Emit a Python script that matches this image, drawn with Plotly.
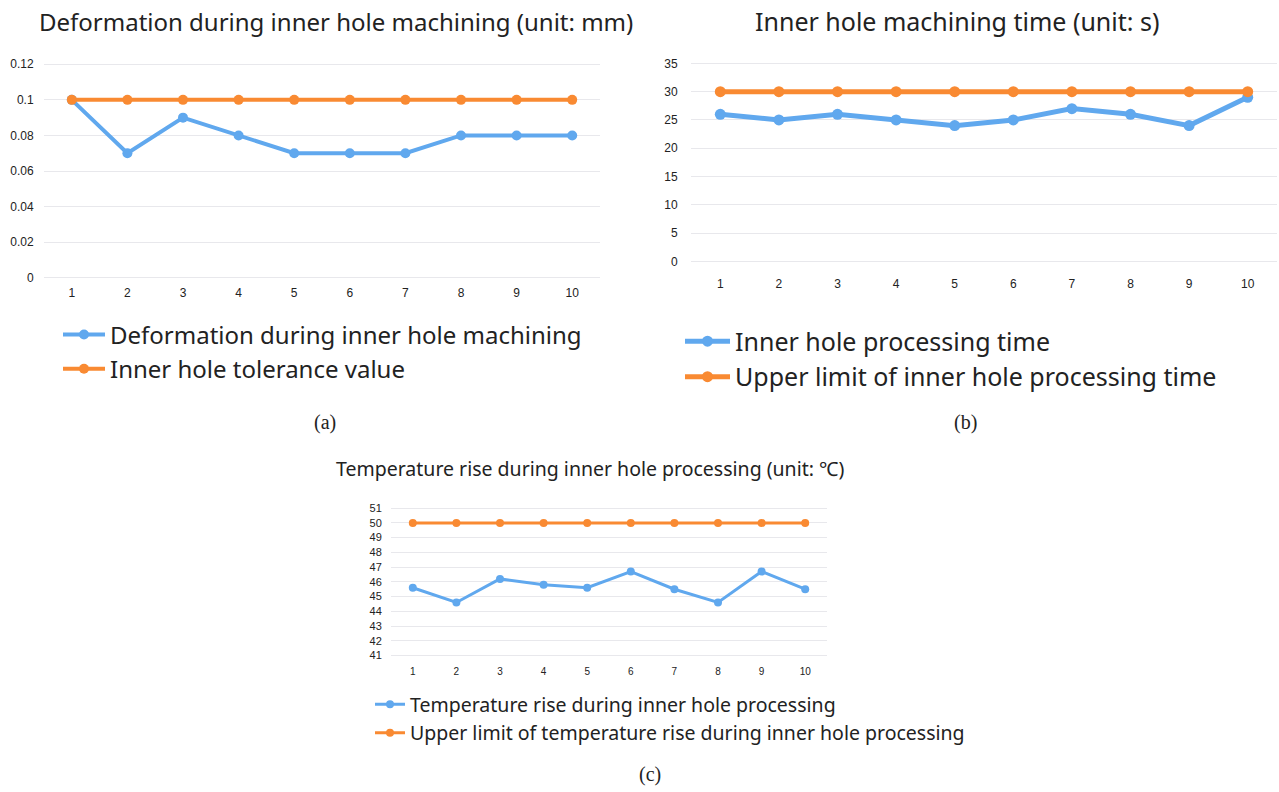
import plotly.graph_objects as go

W, H = 1279, 792

samples = list(range(1, 11))

# (a) deformation
deform = [0.1, 0.07, 0.09, 0.08, 0.07, 0.07, 0.07, 0.08, 0.08, 0.08]
tolerance = [0.1] * 10
a_ticks = [0, 0.02, 0.04, 0.06, 0.08, 0.1, 0.12]
a_ticktext = ["0", "0.02", "0.04", "0.06", "0.08", "0.1", "0.12"]

# (b) machining time
mtime = [26, 25, 26, 25, 24, 25, 27, 26, 24, 29]
time_limit = [30] * 10
b_ticks = [0, 5, 10, 15, 20, 25, 30, 35]

# (c) temperature rise
temp = [45.6, 44.6, 46.2, 45.8, 45.6, 46.7, 45.5, 44.6, 46.7, 45.5]
temp_limit = [50] * 10
c_ticks = list(range(41, 52))

BLUE = "#60A8EE"
ORANGE = "#F98A32"
GRID = "#E8E8EC"
TXT = "#222222"
TFONT = "Noto Sans"


def px(x):
    return x / W


def py(y):
    return 1 - y / H


fig = go.Figure()

# panel a
fig.add_trace(go.Scatter(x=samples, y=deform, mode="lines+markers", name="Deformation during inner hole machining",
                         line=dict(color=BLUE, width=4), marker=dict(size=10, color=BLUE),
                         xaxis="x", yaxis="y", legend="legend"))
fig.add_trace(go.Scatter(x=samples, y=tolerance, mode="lines+markers", name="Inner hole tolerance value",
                         line=dict(color=ORANGE, width=4), marker=dict(size=10, color=ORANGE),
                         xaxis="x", yaxis="y", legend="legend"))
# panel b
fig.add_trace(go.Scatter(x=samples, y=mtime, mode="lines+markers", name="Inner hole processing time",
                         line=dict(color=BLUE, width=5), marker=dict(size=11, color=BLUE),
                         xaxis="x2", yaxis="y2", legend="legend2"))
fig.add_trace(go.Scatter(x=samples, y=time_limit, mode="lines+markers", name="Upper limit of inner hole processing time",
                         line=dict(color=ORANGE, width=5), marker=dict(size=11, color=ORANGE),
                         xaxis="x2", yaxis="y2", legend="legend2"))
# panel c
fig.add_trace(go.Scatter(x=samples, y=temp, mode="lines+markers", name="Temperature rise during inner hole processing",
                         line=dict(color=BLUE, width=3), marker=dict(size=8, color=BLUE),
                         xaxis="x3", yaxis="y3", legend="legend3"))
fig.add_trace(go.Scatter(x=samples, y=temp_limit, mode="lines+markers",
                         name="Upper limit of temperature rise during inner hole processing",
                         line=dict(color=ORANGE, width=3), marker=dict(size=8, color=ORANGE),
                         xaxis="x3", yaxis="y3", legend="legend3"))


def xaxis(d0, d1, anchor, size, ticklen):
    return dict(domain=[px(d0), px(d1)], range=[0.5, 10.5], tickvals=samples, anchor=anchor,
                showgrid=False, zeroline=False, showline=False, ticks="outside", ticklen=ticklen,
                tickcolor="rgba(0,0,0,0)", tickfont=dict(family="Liberation Sans", size=size, color=TXT),
                fixedrange=True)


def yaxis(top, bottom, rng, tickvals, ticktext, anchor, size, ticklen):
    return dict(domain=[py(bottom), py(top)], range=rng, tickvals=tickvals, ticktext=ticktext, anchor=anchor,
                showgrid=True, gridcolor=GRID, gridwidth=1, zeroline=False, showline=False,
                ticks="outside", ticklen=ticklen, tickcolor="rgba(0,0,0,0)",
                tickfont=dict(family="Liberation Sans", size=size, color=TXT), fixedrange=True)


layout = dict(
    width=W, height=H, margin=dict(l=0, r=0, t=0, b=0),
    paper_bgcolor="white", plot_bgcolor="white", showlegend=True,
    xaxis=xaxis(44, 600, "y", 12, 3),
    yaxis=yaxis(56.6, 279, [-0.0006, 0.123], a_ticks, a_ticktext, "x", 12, 7),
    xaxis2=xaxis(691, 1277, "y2", 12, 8),
    yaxis2=yaxis(57.6, 264.9, [-0.6, 35.6], b_ticks, [str(t) for t in b_ticks], "x2", 12, 10),
    xaxis3=xaxis(391, 827, "y3", 10, 2),
    yaxis3=yaxis(506.5, 664.5, [40.7, 51.3], c_ticks, [str(t) for t in c_ticks], "x3", 11, 6),
    legend=dict(x=px(58), y=py(313), xanchor="left", yanchor="top", bgcolor="rgba(0,0,0,0)",
                font=dict(family=TFONT, size=24, color=TXT), itemwidth=42, tracegroupgap=0),
    legend2=dict(x=px(680), y=py(319), xanchor="left", yanchor="top", bgcolor="rgba(0,0,0,0)",
                 font=dict(family=TFONT, size=25, color=TXT), itemwidth=45, tracegroupgap=0),
    legend3=dict(x=px(370), y=py(690), xanchor="left", yanchor="top", bgcolor="rgba(0,0,0,0)",
                 font=dict(family=TFONT, size=19.5, color=TXT), itemwidth=30, tracegroupgap=0),
    annotations=[
        dict(text="Deformation during inner hole machining (unit: mm)", x=px(336), y=py(19), xref="paper", yref="paper",
             showarrow=False, xanchor="center", yanchor="middle", font=dict(family=TFONT, size=24, color=TXT)),
        dict(text="Inner hole machining time (unit: s)", x=px(957), y=py(18), xref="paper", yref="paper",
             showarrow=False, xanchor="center", yanchor="middle", font=dict(family=TFONT, size=25, color=TXT)),
        dict(text="Temperature rise during inner hole processing (unit: ℃)", x=px(590), y=py(471), xref="paper",
             yref="paper", showarrow=False, xanchor="center", yanchor="middle",
             font=dict(family=TFONT, size=19.5, color=TXT)),
        dict(text="(a)", x=px(325), y=py(424), xref="paper", yref="paper", showarrow=False,
             xanchor="center", yanchor="middle", font=dict(family="Liberation Serif", size=20, color=TXT)),
        dict(text="(b)", x=px(965), y=py(424), xref="paper", yref="paper", showarrow=False,
             xanchor="center", yanchor="middle", font=dict(family="Liberation Serif", size=20, color=TXT)),
        dict(text="(c)", x=px(650), y=py(780), xref="paper", yref="paper", showarrow=False,
             xanchor="center", yanchor="middle", font=dict(family="Liberation Serif", size=20, color=TXT)),
    ],
)
fig.update_layout(**layout)
fig.write_html("out.html", config={"displayModeBar": False},
               post_script="document.body.style.margin='0px';")
